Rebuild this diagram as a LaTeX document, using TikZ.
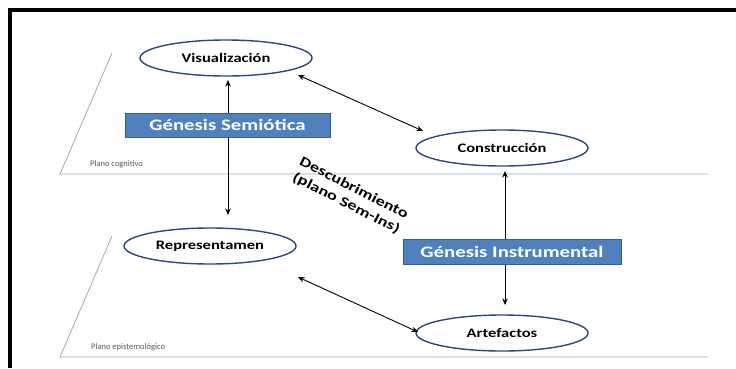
\documentclass[tikz,border=0pt]{standalone}
\usepackage{fontspec}
\setmainfont{Carlito}
\usetikzlibrary{arrows.meta,shapes.geometric}
\definecolor{ringblue}{RGB}{47,72,120}
\definecolor{boxfill}{RGB}{79,129,189}
\definecolor{boxedge}{RGB}{56,93,138}
\definecolor{planeline}{RGB}{150,170,200}
\definecolor{planetext}{RGB}{90,90,90}
% horizontally widened bold lettering
\newcommand{\wide}[2]{\scalebox{#1}[1]{#2}}
\begin{document}
\begin{tikzpicture}[x=1pt,y=-1pt,
  concept/.style={ellipse,draw=ringblue,line width=1.4pt,fill=white,
    minimum width=172pt,minimum height=36pt,inner sep=0pt,
    font=\fontsize{13}{15}\selectfont\bfseries},
  genesis/.style={rectangle,draw=boxedge,line width=0.8pt,fill=boxfill,
    text=white,inner sep=0pt,font=\fontsize{16}{18}\selectfont\bfseries},
  plane/.style={draw=planeline,line width=0.8pt},
  planelabel/.style={text=planetext,font=\fontsize{8.5}{10}\selectfont,anchor=west,inner sep=0pt},
  link/.style={draw=black,line width=0.9pt,{Stealth[length=6.5pt,width=5.5pt]}-{Stealth[length=6.5pt,width=5.5pt]}}]
  \useasboundingbox (0,0) rectangle (736,368);
  \fill[white] (0,0) rectangle (736,368);

  % cropped frame (top and left edges)
  \draw[line width=4pt] (8,10) -- (736,10);
  \draw[line width=4pt] (10,8) -- (10,368);

  % cognitive plane
  \coordinate (c1) at (112,53);
  \coordinate (c2) at (60,174);
  \coordinate (c3) at (708,174);
  \draw[plane] (c1) -- (c2) -- (c3);
  \node[planelabel] (cogl) at (90,164) {Plano cognitivo};

  % epistemological plane
  \coordinate (e1) at (112,236);
  \coordinate (e2) at (60,357);
  \coordinate (e3) at (708,357);
  \draw[plane] (e1) -- (e2) -- (e3);
  \node[planelabel] (epil) at (91,347) {Plano epistemológico};

  % concepts
  \node[concept] (vis) at (226,58) {\wide{1.27}{Visualización}};
  \node[concept] (con) at (502,148) {\wide{1.27}{Construcción}};
  \node[concept] (rep) at (210,246) {\wide{1.27}{Representamen}};
  \node[concept] (art) at (502,333) {\wide{1.27}{Artefactos}};

  % vertical links (drawn before the genesis boxes)
  \coordinate (va) at (228,80);
  \coordinate (vb) at (228,215);
  \draw[link] (va) -- (vb);
  \coordinate (ca) at (505,171);
  \coordinate (cb) at (505,305);
  \draw[link] (ca) -- (cb);

  % genesis boxes
  \node[genesis,minimum width=205pt,minimum height=24pt] (gsem) at (227.5,125) {\wide{1.3}{Génesis Semiótica}};
  \node[genesis,minimum width=218pt,minimum height=25pt] (gins) at (512,251.5) {\wide{1.3}{Génesis Instrumental}};

  % diagonal links
  \coordinate (d1) at (298,75);
  \coordinate (d2) at (423,131);
  \draw[link] (d1) -- (d2);
  \coordinate (d3) at (298,277);
  \coordinate (d4) at (418,332);
  \draw[link] (d3) -- (d4);

  % discovery label
  \node[rotate=-27,align=center,font=\fontsize{14}{17}\selectfont\bfseries,inner sep=0pt] (desc) at (350,196)
    {\wide{1.3}{Descubrimiento}\\\wide{1.3}{(plano Sem-Ins)}};
\end{tikzpicture}
\end{document}
